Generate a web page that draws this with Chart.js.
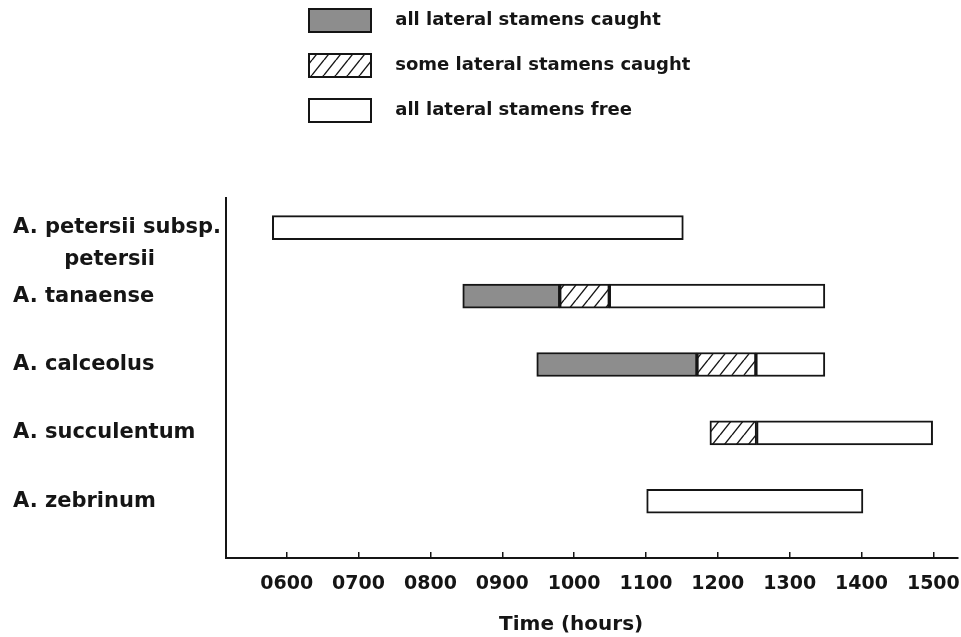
<!DOCTYPE html>
<html>
<head>
<meta charset="utf-8">
<title>Lateral stamens by time of day</title>
<script src="https://cdn.jsdelivr.net/npm/chart.js@4/dist/chart.umd.min.js"></script>
<style>
  html, body { margin: 0; padding: 0; background: #fff; }
  #wrap { position: relative; width: 961px; height: 637px; }
</style>
</head>
<body>
<div id="wrap"><canvas id="chart"></canvas></div>
<script>
// species on the y axis (first one wraps on two lines, leading blank line keeps line 1 on the bar)
const speciesLabels = [
  ['', 'A. petersii subsp.', '\u00A0\u00A0\u00A0\u00A0\u00A0\u00A0\u00A0petersii'],
  'A. tanaense',
  'A. calceolus',
  'A. succulentum',
  'A. zebrinum'
];

// time in decimal hours, [start, end] per species
const allCaught  = [null, [8.45, 9.80], [9.48, 11.71], null, null];
const someCaught = [null, [9.80, 10.49], [11.71, 12.53], [11.89, 12.54], null];
const allFree    = [[5.80, 11.52], [10.49, 13.49], [12.53, 13.49], [12.54, 14.99], [11.01, 14.02]];

const timeTicks  = [6, 7, 8, 9, 10, 11, 12, 13, 14, 15];
const timeLabels = ['0600', '0700', '0800', '0900', '1000', '1100', '1200', '1300', '1400', '1500'];

const seriesNames = ['all lateral stamens caught', 'some lateral stamens caught', 'all lateral stamens free'];

const ink = '#151515';

// hatch pattern for "some caught"
function makeHatch() {
  const w = 12, h = 15;
  const c = document.createElement('canvas');
  c.width = w; c.height = h;
  const g = c.getContext('2d');
  g.fillStyle = '#fff';
  g.fillRect(0, 0, w, h);
  g.strokeStyle = ink;
  g.lineWidth = 1.4;
  for (const k of [-1, 0, 1]) {
    g.beginPath();
    g.moveTo(k * w, h);
    g.lineTo(k * w + w, 0);
    g.stroke();
  }
  return g.createPattern(c, 'repeat');
}

function toPoints(arr) {
  return arr.map((v, i) => v ? { x: v, y: i } : null).filter(Boolean);
}

Chart.defaults.font.family = '"DejaVu Sans", sans-serif';
Chart.defaults.color = ink;

// put the legend column where the figure has it
const legendPlace = {
  id: 'legendPlace',
  afterLayout(chart) {
    const lg = chart.legend;
    const dx = 287 - lg.left;
    lg.left += dx;
    lg.right += dx;
    lg.top = -13;
  }
};

const ctx = document.getElementById('chart').getContext('2d');
new Chart(ctx, {
  type: 'bar',
  data: {
    datasets: [
      { label: seriesNames[0], data: toPoints(allCaught), backgroundColor: '#8d8d8d' },
      { label: seriesNames[1], data: toPoints(someCaught), backgroundColor: makeHatch() },
      { label: seriesNames[2], data: toPoints(allFree), backgroundColor: '#ffffff' }
    ].map(d => Object.assign(d, {
      borderColor: ink,
      borderWidth: 2,
      borderSkipped: false,
      grouped: false,
      barThickness: 24
    }))
  },
  options: {
    indexAxis: 'y',
    responsive: true,
    maintainAspectRatio: false,
    animation: false,
    layout: { padding: { top: 53, left: 13, right: 3, bottom: 0 } },
    scales: {
      x: {
        type: 'linear',
        position: 'bottom',
        offset: false,
        min: 5.155,
        max: 15.343,
        afterBuildTicks: s => { s.ticks = timeTicks.map(v => ({ value: v })); },
        afterFit: s => { s.height = 79; s.paddingLeft = 0; s.paddingRight = 0; },
        ticks: {
          autoSkip: false,
          maxRotation: 0,
          padding: 21,
          font: { size: 19, weight: 'bold' },
          callback: v => timeLabels[timeTicks.indexOf(v)]
        },
        grid: { drawOnChartArea: false, drawTicks: true, tickLength: -6, color: ink, lineWidth: 1.5 },
        border: { display: true, color: ink, width: 2 },
        title: {
          display: true,
          text: 'Time (hours)\u00A0\u00A0\u00A0\u00A0\u00A0\u00A0',
          font: { size: 20, weight: 'bold' },
          padding: { top: 0, bottom: 0 }
        }
      },
      y: {
        type: 'linear',
        reverse: true,
        offset: false,
        min: -0.434,
        max: 4.829,
        afterBuildTicks: s => { s.ticks = speciesLabels.map((_, i) => ({ value: i })); },
        afterFit: s => { s.width = 213; s.paddingTop = 0; s.paddingBottom = 0; },
        ticks: {
          autoSkip: false,
          crossAlign: 'far',
          font: { size: 21, weight: 'bold', lineHeight: 1.5 },
          callback: v => speciesLabels[v]
        },
        grid: { drawOnChartArea: false, drawTicks: false },
        border: { display: true, color: ink, width: 2 }
      }
    },
    plugins: {
      tooltip: { enabled: false },
      legend: {
        position: 'top',
        align: 'start',
        fullSize: false,
        labels: {
          boxWidth: 62,
          boxHeight: 23,
          padding: 22,
          color: ink,
          font: { size: 18, weight: 'bold' },
          generateLabels: chart =>
            Chart.defaults.plugins.legend.labels.generateLabels(chart)
              .map(item => Object.assign(item, { text: '\u2002\u00A0' + item.text }))
        }
      }
    }
  },
  plugins: [legendPlace]
});
</script>
</body>
</html>
